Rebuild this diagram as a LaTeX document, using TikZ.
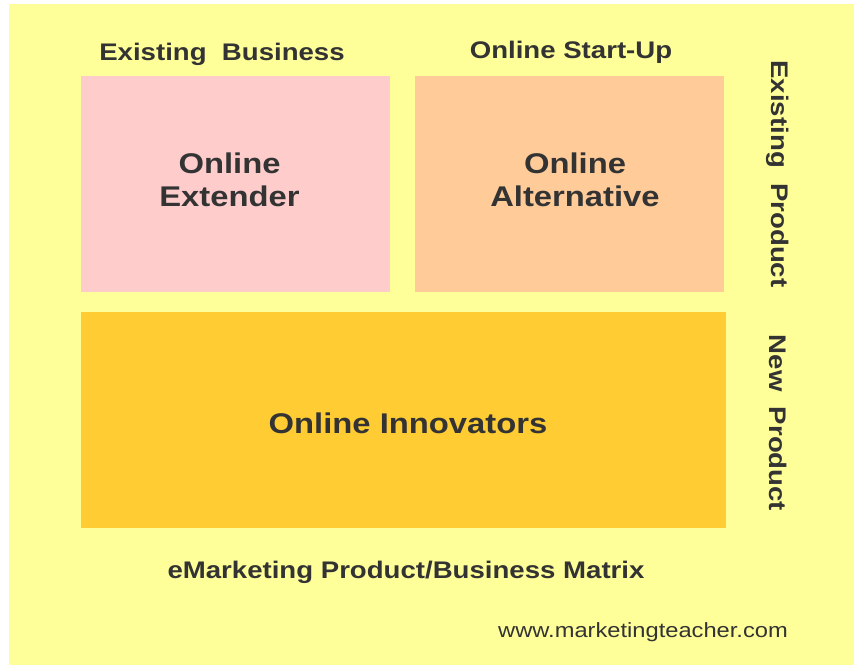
\documentclass[tikz,border=0pt]{standalone}
\usepackage{fontspec}
\setmainfont[FakeStretch=1.15]{Liberation Sans}
\definecolor{bgyellow}{HTML}{FFFF99}
\definecolor{boxpink}{HTML}{FFCCCC}
\definecolor{boxpeach}{HTML}{FFCC99}
\definecolor{boxorange}{HTML}{FFCC33}
\definecolor{inkgrey}{HTML}{333333}

\begin{document}
\begin{tikzpicture}
  [x=1pt,y=-1pt,
   every node/.style={text=inkgrey,inner sep=0pt},
   cell/.style={rectangle,minimum height=216pt},
   celltext/.style={align=center,font=\bfseries\fontsize{28.5}{33}\selectfont},
   head/.style={font=\bfseries\fontsize{24}{28}\selectfont},
   side/.style={head,rotate=-90}]
  \useasboundingbox (0,0) rectangle (854,665);
  \fill[bgyellow] (9,4) rectangle (854,665);
  % the three cells of the matrix
  \node[cell,fill=boxpink,minimum width=309pt] (extender) at (235.5,184) {};
  \node[cell,fill=boxpeach,minimum width=309pt] (alternative) at (569.5,184) {};
  \node[cell,fill=boxorange,minimum width=645pt] (innovators) at (403.5,420) {};
  \node[celltext] (extlabel) at (229.5,180) {Online\\Extender};
  \node[celltext] (altlabel) at (575,180) {Online\\Alternative};
  \node[celltext] (innlabel) at (408,423) {Online Innovators};
  % column and row headings
  \node[head] (business) at (222,54) {Existing\ \ Business};
  \node[head] (startup) at (571,52) {Online Start-Up};
  \node[side] (oldprod) at (778,174) {Existing\ \ Product};
  \node[side] (newprod) at (778,423) {New\ \ Product};
  % caption
  \node[head] (title) at (406,572) {eMarketing Product/Business Matrix};
  \node[font=\fontsize{20.6}{24}\selectfont] (url) at (643,632) {www.marketingteacher.com};
\end{tikzpicture}
\end{document}
